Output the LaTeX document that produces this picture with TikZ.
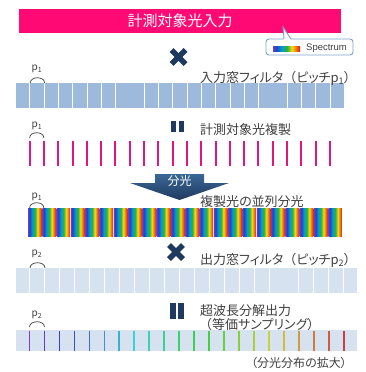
\documentclass[tikz,border=0pt]{standalone}
\usepackage{fontspec}
\newfontfamily\jp[RawFeature=+palt]{Noto Sans CJK JP}
\newfontfamily\jpf{Noto Sans CJK JP}
\newfontfamily\lsans{Liberation Sans}
\definecolor{hdr}{HTML}{FF0A74}
\definecolor{pinkln}{HTML}{E0177F}
\definecolor{navy}{HTML}{1F3A5F}
\definecolor{arrowtop}{HTML}{3A6796}
\definecolor{filtA}{HTML}{9DB9DC}
\definecolor{filtB}{HTML}{D7E2F0}
\definecolor{txt}{HTML}{404040}
\definecolor{callb}{HTML}{7AA3CC}
\definecolor{rbv}{HTML}{6A3FC0}
\definecolor{rbb}{HTML}{2040D0}
\definecolor{rbc}{HTML}{00A0C8}
\definecolor{rbg}{HTML}{30B040}
\definecolor{rby}{HTML}{F0E010}
\definecolor{rbo}{HTML}{F08010}
\definecolor{rbr}{HTML}{E01818}
\pgfdeclarehorizontalshading{rainbowp}{100bp}{color(0bp)=(rbv); color(25bp)=(rbv); color(31bp)=(rbb); color(41bp)=(rbc); color(51bp)=(rbg); color(60bp)=(rby); color(67bp)=(rbo); color(75bp)=(rbr); color(100bp)=(rbr)}
\begin{document}
\begin{tikzpicture}[x=1pt,y=-1pt,
  lbl/.style={anchor=west,inner sep=0pt,text=txt,font=\jp\fontsize{13}{15}\selectfont},
  plbl/.style={inner sep=0pt,text=txt,font=\jp\fontsize{10}{12}\selectfont},
  pitcharc/.style={draw=txt,line width=0.7pt},
  crossbar/.style={navy,line width=5.5pt},
  pinkline/.style={pinkln,line width=2pt}]
\useasboundingbox (0,0) rectangle (366,372);
\fill[white] (0,0) rectangle (366,372);

% header
\node[fill=hdr,minimum width=322pt,minimum height=24pt,inner sep=0pt,text=white,font=\jp\fontsize{15}{17}\selectfont] (hdr) at (180,21) {計測対象光入力};

% callout
\draw[callb,line width=0.9pt,fill=white,rounded corners=3pt] (266,39) rectangle (353,55);
\fill[white] (283.6,39.8) -- (283,27) -- (291,39.8) -- cycle;
\draw[callb,line width=0.9pt] (284,39) -- (283,27) -- (291,39);
\shade[shading=rainbowp] (273,46) rectangle (300,51.5);
\node[anchor=west,inner sep=0pt,text=txt,font=\lsans\fontsize{9.5}{11}\selectfont] (spec) at (306,48) {Spectrum};

% cross 1
\coordinate (xa) at (178.5,57);
\draw[crossbar] ([shift={(-7,-7)}]xa) -- ([shift={(7,7)}]xa);
\draw[crossbar] ([shift={(-7,7)}]xa) -- ([shift={(7,-7)}]xa);

% row 1 filter
\node[plbl] (pa) at (37,69) {p\textsubscript{1}};
\draw[pitcharc] (30.3,83) .. controls (30.3,76) and (44.6,76) .. (44.6,83);
\foreach \k in {0,...,22} \fill[filtA] ({16+14.3*\k},83) rectangle ++(13.4,25);
\node[lbl] (ta) at (200,78) {入力窓フィルタ{\jpf （}ピッチp\textsubscript{1}）};

% equals 1
\fill[navy] (171,121) rectangle (176,132);
\fill[navy] (179,121) rectangle (184,132);
\node[plbl] (pb) at (37,126) {p\textsubscript{1}};
\draw[pitcharc] (29.6,138) .. controls (29.6,131) and (43.9,131) .. (43.9,138);
\node[lbl] (tb) at (200,130) {計測対象光複製};
\foreach \k in {0,...,21} \draw[pinkline] ({29.6+14.3*\k},141) -- ++(0,25);

% arrow
\shade[top color=arrowtop,bottom color=navy] (155,174) -- (204,174) -- (204,183) -- (229,183) -- (179.5,200) -- (130,183) -- (155,183) -- cycle;
\node[inner sep=0pt,text=white,font=\jp\fontsize{12}{14}\selectfont] (bunko) at (179.5,181) {分光};

% rainbow row
\node[plbl] (pc) at (37,197) {p\textsubscript{1}};
\draw[pitcharc] (29.6,208) .. controls (29.6,201) and (43.9,201) .. (43.9,208);
\node[lbl] (tc) at (200,201.5) {複製光の並列分光};
\foreach \k in {0,...,21} \shade[shading=rainbowp] ({28+14.3*\k},208) rectangle ++(13.6,28);

% cross 2
\coordinate (xb) at (176,252);
\draw[crossbar] ([shift={(-7,-7)}]xb) -- ([shift={(7,7)}]xb);
\draw[crossbar] ([shift={(-7,7)}]xb) -- ([shift={(7,-7)}]xb);

% row 4 filter
\node[plbl] (pd) at (37,254) {p\textsubscript{2}};
\draw[pitcharc] (30,268) .. controls (30,261) and (45,261) .. (45,268);
\node[lbl] (td) at (200,260) {出力窓フィルタ{\jpf （}ピッチp\textsubscript{2}）};
\fill[filtB] (16,268) rectangle (29.2,293);
\foreach \k in {0,...,20} \fill[filtB] ({30+14.97*\k},268) rectangle ++(14,25);
\fill[filtB] (344.4,268) rectangle (357,293);

% equals 2
\fill[navy] (170,303) rectangle (175.5,319);
\fill[navy] (178,303) rectangle (183.5,319);
\node[plbl] (pe) at (37,315) {p\textsubscript{2}};
\draw[pitcharc] (29.5,327) .. controls (29.5,320) and (44.5,320) .. (44.5,327);
\node[lbl] (te) at (200,311) {超波長分解出力};
\node[lbl] (tf) at (199,325) {{\jpf （}等価サンプリング）};

% output row
\fill[filtB] (16,330) rectangle (357,351);
\foreach \k in {0,...,21} {
  \pgfmathsetmacro\hh{270-270*\k/21}
  \definecolor{lc}{Hsb}{\hh,0.72,0.82}
  \draw[lc,line width=1.7pt] ({29.5+14.97*\k},331) -- ++(0,20);
}
\node[lbl,font=\jp\fontsize{12}{14}\selectfont] (tg) at (251,363) {（分光分布の拡大）};
\end{tikzpicture}
\end{document}
